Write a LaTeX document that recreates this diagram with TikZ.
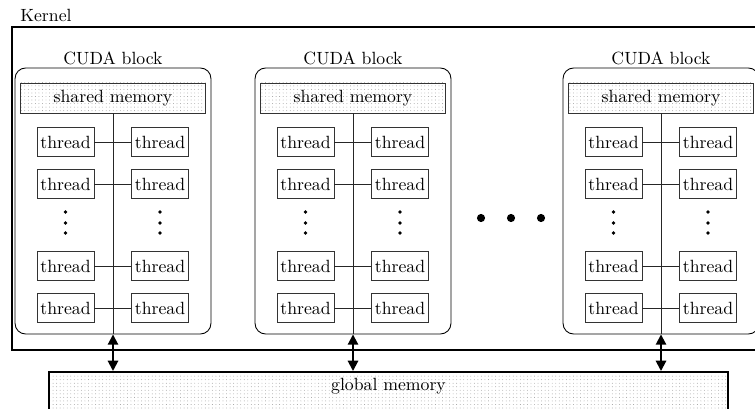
\documentclass[tikz,border=0pt]{standalone}
\usepackage{tikz}
\usetikzlibrary{arrows.meta}
\usetikzlibrary{patterns.meta}

\begin{document}
\begin{tikzpicture}[x=0.565pt, y=-0.565pt,
  threadbox/.style={draw=black!80, line width=0.5pt, minimum width=32.2pt, minimum height=16.7pt, inner sep=0.5pt},
  smem/.style={draw=black!80, line width=0.5pt, minimum width=104.5pt, minimum height=17pt,
    pattern={Dots[radius=0.25pt, distance=2pt]}, pattern color=black!40},
  cblock/.style={draw, line width=0.5pt, rounded corners=6pt, minimum width=110.7pt, minimum height=150.3pt},
  kernelbox/.style={draw, line width=1.2pt, minimum width=431.7pt, minimum height=182.5pt},
  gmem/.style={draw, line width=1.2pt, minimum width=383.6pt, text depth=20pt,
    pattern={Dots[radius=0.25pt, distance=2pt]}, pattern color=black!40},
  link/.style={line width=0.45pt, draw=black!85},
  bus/.style={{Triangle[width=5.8pt,length=5.8pt]}-{Triangle[width=5.8pt,length=5.8pt]}, line width=1.1pt}]

% Fix the page size
\clip (0,0) rectangle (755,408);

% Draw the kernel and the global memory
\node[anchor=west, inner sep=0] (klabel) at (20,15) {Kernel};
\node[kernelbox, anchor=north west] (kernel) at (11,26) {};
\node[gmem, anchor=north] (gm) at (388.5,371) {global memory};

% Draw the CUDA blocks
\foreach \c [count=\i] in {113,353,661} {
  \node[cblock, label={[label distance=-2.2pt]above:CUDA block}] (b\i) at (\c,201) {};
  \node[smem] (b\i-sm) at (\c,98) {shared memory};
  \foreach \y [count=\j] in {142,184,266,308} {
    \node[threadbox] (b\i-l\j) at (\c-47.5,\y) {thread};
    \node[threadbox] (b\i-r\j) at (\c+47,\y) {thread};
    \draw[link] (b\i-l\j) -- (b\i-r\j);
  }
  % Optional: the dots between the rows
  \foreach \y in {212,223,233} {
    \fill (\c-47.5,\y) circle (1.1pt);
    \fill (\c+47,\y) circle (1.1pt);
  }
  \draw[link] (b\i-sm.south) -- (b\i.south);
  \draw[bus] (b\i.south) -- (b\i.south |- gm.north);
}

% Draw the dots between the blocks
\fill (481,218) circle (2.3pt);
\fill (511,218) circle (2.3pt);
\fill (541,218) circle (2.3pt);

\end{tikzpicture}
\end{document}
